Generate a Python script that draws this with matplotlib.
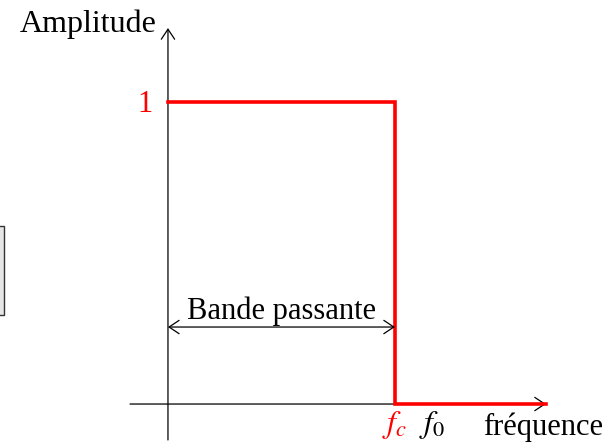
import matplotlib
matplotlib.use("Agg")
import matplotlib.pyplot as plt
from matplotlib.patches import Rectangle

# data (fc normalised to 1, amplitude to 1)
fc = 1.0
f0 = 1.163
amp = 1.0
filter_x = [0.0, fc, fc, 1.665]
filter_y = [amp, amp, 0.0, 0.0]
band_y = 0.255

plt.rcParams['font.family'] = ['Liberation Serif', 'DejaVu Serif']
plt.rcParams['mathtext.fontset'] = 'stix'

fig = plt.figure(figsize=(6.14, 4.46), dpi=100)
ax = fig.add_axes([0, 0, 1, 1])
ax.set_xlim(-0.740, 1.965)
ax.set_ylim(-0.139, 1.338)
ax.axis('off')

head = '->, head_length=0.45, head_width=0.3'
both = '<->, head_length=0.45, head_width=0.3'

# axes with arrows
ax.annotate('', xy=(1.665, 0), xytext=(-0.167, 0),
            arrowprops=dict(arrowstyle=head, mutation_scale=16, lw=0.9, color='black',
                            shrinkA=0, shrinkB=0))
ax.annotate('', xy=(0, 1.245), xytext=(0, -0.119),
            arrowprops=dict(arrowstyle=head, mutation_scale=16, lw=0.9, color='black',
                            shrinkA=0, shrinkB=0))

# filter
ax.plot(filter_x, filter_y, color='red', lw=2.6, solid_joinstyle='miter', zorder=3)

# bandwidth arrow
ax.annotate('', xy=(fc, band_y), xytext=(0, band_y),
            arrowprops=dict(arrowstyle=both, mutation_scale=16, lw=0.9, color='black',
                            shrinkA=0, shrinkB=0))
ax.text(fc / 2, 0.282, 'Bande passante', ha='center', va='baseline', fontsize=22)

# labels
ax.text(-0.048, 1.232, 'Amplitude', ha='right', va='baseline', fontsize=23)
ax.text(-0.066, 0.967, '1', ha='right', va='baseline', fontsize=22, color='red')
ax.text(fc, -0.093, r'$f_c$', ha='center', va='baseline', fontsize=23, color='red')
ax.text(f0, -0.093, r'$f_0$', ha='center', va='baseline', fontsize=23)
ax.text(1.388, -0.103, 'fréquence', ha='left', va='baseline', fontsize=22)

# partial grey box at the left edge
fig.patches.append(Rectangle((-0.01, 1 - 315 / 446), 0.017, 89 / 446, transform=fig.transFigure,
                             facecolor='#e6e6e6', edgecolor='#333333', lw=1.0))

fig.savefig('out.png', dpi=100)
